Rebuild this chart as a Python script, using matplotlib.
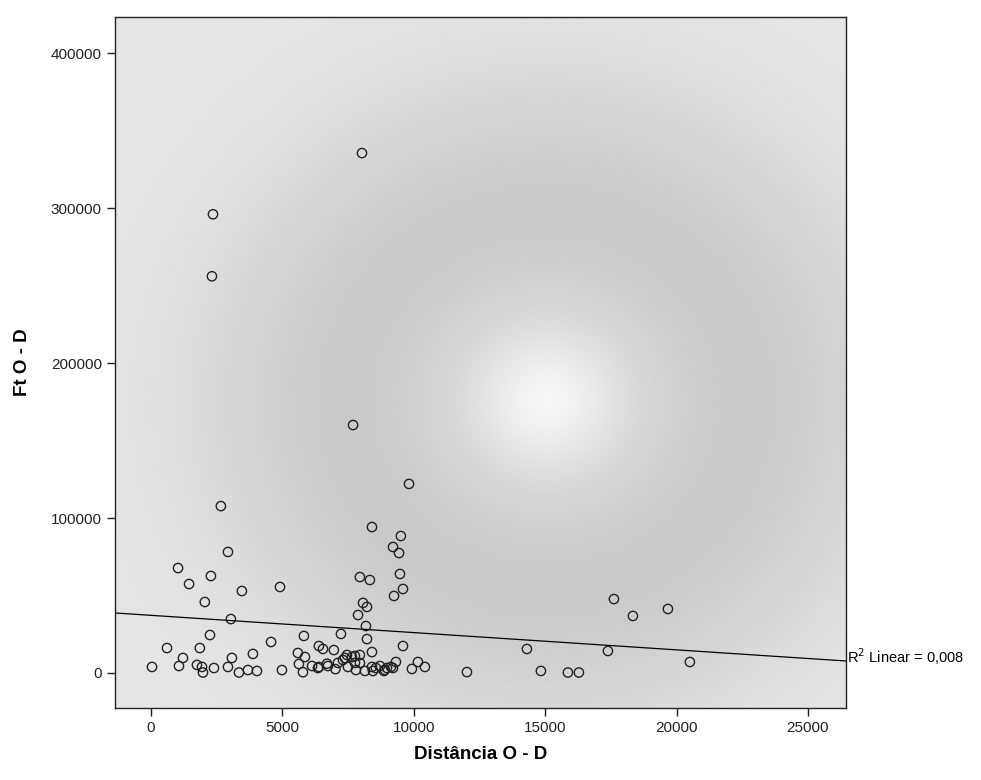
import numpy as np
import matplotlib
matplotlib.use('Agg')
import matplotlib.pyplot as plt

plt.rcParams['font.family'] = ['Liberation Sans', 'DejaVu Sans']

# distance O-D vs Ft O-D
dist = [8030, 2360, 2320, 7690, 9820, 2660, 8410, 9510, 9210, 9440,
        2930, 1030, 2280, 1450, 4910, 3460, 7950, 8330, 9475, 9590,
        9250, 2050, 8070, 8220, 7880, 3040, 8180, 2245, 5820, 7230,
        4570, 8220, 610, 1860, 9590, 3880, 3080, 6390, 6545, 6960,
        8410, 5590, 5860, 7760, 7950, 7380, 5630, 6130, 6390, 6735,
        7115, 7305, 7496, 7762, 7648, 7952, 8409, 8713, 8980, 9132,
        9208, 9322, 10159, 10425, 5784, 6354, 8143, 8447, 8866, 9930,
        12024, 14840, 15867, 16285, 17617, 18340, 19672, 14307, 17389, 20509,
        40, 1065, 1218, 1750, 1941, 1979, 2397, 2930, 3348, 3691,
        4033, 4984, 7460, 7800, 8560, 7020, 8900, 6700]
ft = [335500, 296000, 256000, 160000, 122000, 107700, 94200, 88400, 81300, 77400,
      78100, 67700, 62600, 57400, 55500, 52900, 61900, 60000, 63900, 54200,
      49700, 45800, 45200, 42600, 37400, 34800, 30300, 24500, 23900, 25200,
      20000, 21900, 16100, 16100, 17400, 12300, 9700, 17400, 15500, 14800,
      13500, 12900, 10300, 11000, 11600, 9700, 5800, 4500, 3900, 4500,
      6500, 8400, 3900, 6500, 10300, 6500, 3900, 4500, 3200, 3900,
      3200, 7100, 7100, 3900, 500, 3200, 1300, 1300, 1300, 2600,
      600, 1300, 300, 300, 47700, 36800, 41300, 15500, 14200, 7100,
      3900, 4500, 9700, 5200, 3900, 300, 3200, 3900, 300, 1900,
      1300, 1900, 11600, 1900, 3200, 2500, 2000, 6000]

# linear fit line as shown in the chart
fit_intercept = 37200
fit_slope = -1.114
r2_text = 'R$^2$ Linear = 0,008'

fig = plt.figure(figsize=(9.81, 7.8), dpi=100)
ax = fig.add_axes([0.1172, 0.0923, 0.7452, 0.8857])

xlo, xhi = -1370, 26450
ylo, yhi = -22600, 423200

# soft grey radial background like the original
gx, gy = np.meshgrid(np.linspace(-1, 1, 300), np.linspace(-1, 1, 300))
r = np.sqrt((gx - 0.18)**2 + (gy - 0.11)**2)
bg = (0.90 - 0.11 * np.exp(-((r - 0.55) / 0.4)**2)
      + 0.08 * np.exp(-(r / 0.2)**2))
ax.imshow(bg, cmap='gray', vmin=0, vmax=1, extent=[xlo, xhi, ylo, yhi],
          aspect='auto', zorder=0, interpolation='bilinear')

ax.scatter(dist, ft, s=45, facecolors='none', edgecolors='#222222',
           linewidths=1.0, zorder=3)
ax.axline((0, fit_intercept), slope=fit_slope, color='black', lw=0.9, zorder=2)

ax.set_xlim(xlo, xhi)
ax.set_ylim(ylo, yhi)
ax.set_xticks([0, 5000, 10000, 15000, 20000, 25000])
ax.set_yticks([0, 100000, 200000, 300000, 400000])
ax.tick_params(direction='out', length=6, width=1, labelsize=11, colors='#222222')
for s in ax.spines.values():
    s.set_color('#222222')
    s.set_linewidth(1.0)

ax.set_xlabel('Distância O - D', fontsize=13.5, fontweight='bold', labelpad=8)
ax.set_ylabel('Ft O - D', fontsize=13.5, fontweight='bold', labelpad=14)

y_end = fit_intercept + fit_slope * xhi
ax.annotate(r2_text, xy=(xhi, y_end), xytext=(1, 3), textcoords='offset points',
            ha='left', va='center', fontsize=10.5, annotation_clip=False)

plt.savefig('out.png', dpi=100)
